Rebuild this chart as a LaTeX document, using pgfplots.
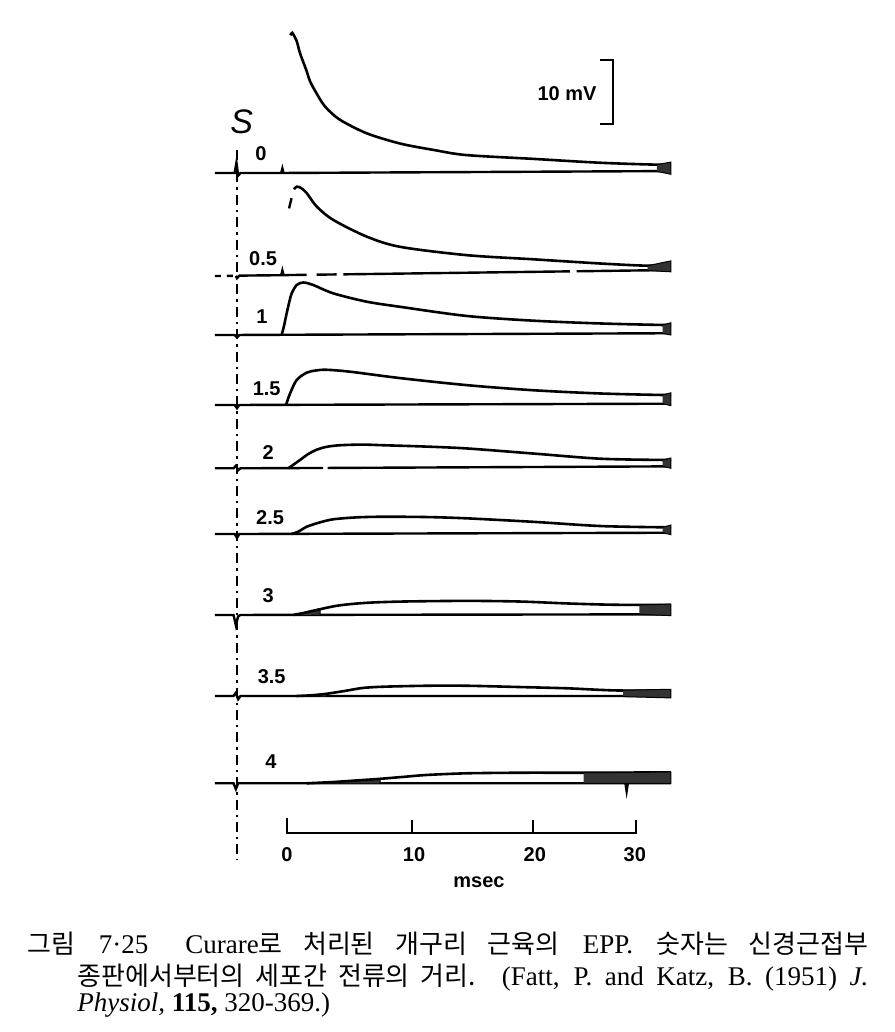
\documentclass[border=0pt]{standalone}
\usepackage{pgfplots}
\pgfplotsset{compat=1.18}
\usepackage{fontspec}
\setmainfont{Liberation Serif}
\newfontfamily\kr{Noto Sans CJK KR}
\newfontfamily\lab{Liberation Sans}

% x: msec (0 at the start of the scale bar), y: mV, each sweep lifted by its baseline
\pgfplotsset{
  trace/.style={black, line width=1.3pt, smooth, tension=0.5, no marks},
  base/.style={black, line width=1.2pt, no marks},
  blob/.style={fill=black!80, draw=black, line width=0.5pt, no marks},
}
\tikzset{lbl/.style={font=\lab\bfseries\fontsize{10}{12}\selectfont, inner sep=0pt}}

\begin{document}
\begin{tikzpicture}
\begin{axis}[
  scale only axis,
  width=447pt, height=516pt,
  xmin=-24.68, xmax=52.19,
  ymin=0, ymax=161.25,
  hide axis, clip=false,
]
\path (rel axis cs:0,0) rectangle (rel axis cs:1,1);

% stimulus line
\addplot[black, line width=1pt, dash pattern=on 5pt off 2.5pt on 1.2pt off 2.5pt] coordinates {(-4.3,137.8) (-4.3,26.9)};

% ---- 0
\addplot[base] table[row sep=\\, y expr=\thisrow{v}+134.22] {t v\\
-6.2 0\\ -4.5 0\\ -4.35 1.6\\ -4.2 -0.4\\ -4.0 0\\ -0.5 0\\ -0.4 0.7\\ -0.3 0\\ 33 0.3\\};
\addplot[trace] table[row sep=\\, y expr=\thisrow{v}+134.22] {t v\\
0.3 21.5\\ 0.45 21.9\\ 0.83 20.6\\ 1.12 18.7\\ 1.69 15.9\\ 1.98 14.3\\ 2.55 12.4\\ 2.84 11.5\\
3.41 10.1\\ 4.56 8.3\\ 6.85 6.2\\ 9.72 4.6\\ 12.6 3.6\\ 15.4 2.8\\ 21.2 2.2\\ 26.9 1.6\\ 31.8 1.3\\ 33 1.4\\};
\addplot[blob] table[row sep=\\, y expr=\thisrow{v}+134.22] {t v\\
31.8 1.3\\ 33 1.7\\ 33 -0.2\\ 31.8 0.25\\};

% ---- 0.5
\addplot[base, dashed] table[row sep=\\, y expr=\thisrow{v}+118.28] {t v\\ -6.2 -0.16\\ -4.4 -0.12\\};
\addplot[base] table[row sep=\\, y expr=\thisrow{v}+118.28] {t v\\
-4.4 -0.12\\ -4.3 -0.5\\ -4.1 -0.1\\ -0.5 -0.03\\ -0.4 0.7\\ -0.3 -0.02\\ 1.69 0.03\\};
\addplot[base] table[row sep=\\, y expr=\thisrow{v}+118.28] {t v\\ 2.55 0.05\\ 4.27 0.09\\};
\addplot[base] table[row sep=\\, y expr=\thisrow{v}+118.28] {t v\\ 4.84 0.1\\ 24.33 0.57\\};
\addplot[base] table[row sep=\\, y expr=\thisrow{v}+118.28] {t v\\ 24.9 0.58\\ 33 0.78\\};
\addplot[base] table[row sep=\\, y expr=\thisrow{v}+118.28] {t v\\ 0.17 10.4\\ 0.39 12.0\\};
\addplot[trace] table[row sep=\\, y expr=\thisrow{v}+118.28] {t v\\
0.6 13.4\\ 0.83 13.8\\ 1.2 13.6\\ 1.69 12.8\\ 2.55 10.7\\ 3.98 8.6\\ 6.85 6.0\\ 9.72 4.4\\
15.45 3.1\\ 21.2 2.45\\ 26.9 1.8\\ 31.0 1.45\\ 33 1.6\\};
\addplot[blob] table[row sep=\\, y expr=\thisrow{v}+118.28] {t v\\
31.0 1.45\\ 33 2.2\\ 33 0.5\\ 31.0 0.7\\};

% ---- 1
\addplot[base] table[row sep=\\, y expr=\thisrow{v}+108.91] {t v\\
-6.2 0\\ -4.5 0\\ -4.3 -0.4\\ -4.1 0\\ 33 0.27\\};
\addplot[trace] table[row sep=\\, y expr=\thisrow{v}+108.91] {t v\\
-0.46 0\\ -0.25 1.5\\ -0.03 3.4\\ 0.2 5.2\\ 0.40 6.5\\ 0.83 7.8\\ 1.40 8.2\\ 2.26 7.8\\ 3.98 6.5\\
6.85 5.2\\ 9.72 4.4\\ 15.45 2.97\\ 21.2 2.23\\ 26.9 1.8\\ 32.3 1.56\\ 33 1.6\\};
\addplot[blob] table[row sep=\\, y expr=\thisrow{v}+108.91] {t v\\
32.3 1.55\\ 33 1.9\\ 33 0.0\\ 32.3 0.25\\};

% ---- 1.5
\addplot[base] table[row sep=\\, y expr=\thisrow{v}+97.97] {t v\\
-6.2 0\\ -4.5 0\\ -4.3 -0.5\\ -4.1 0\\ 33 0.2\\};
\addplot[trace] table[row sep=\\, y expr=\thisrow{v}+97.97] {t v\\
-0.09 0\\ 0.26 1.8\\ 0.83 3.9\\ 1.69 5.05\\ 2.5 5.4\\ 3.41 5.5\\ 5.42 5.2\\ 9.72 4.2\\
15.45 3.1\\ 21.2 2.3\\ 26.9 1.8\\ 32.3 1.56\\ 33 1.6\\};
\addplot[blob] table[row sep=\\, y expr=\thisrow{v}+97.97] {t v\\
32.3 1.55\\ 33 1.9\\ 33 -0.1\\ 32.3 0.2\\};

% ---- 2
\addplot[base] table[row sep=\\, y expr=\thisrow{v}+88.08] {t v\\
-6.2 0\\ -4.6 0\\ -4.4 0.4\\ -4.2 -0.3\\ -4.0 0\\ 3.1 0.05\\};
\addplot[base] table[row sep=\\, y expr=\thisrow{v}+88.08] {t v\\ 3.5 0.05\\ 33 0.3\\};
\addplot[trace] table[row sep=\\, y expr=\thisrow{v}+88.08] {t v\\
0.11 0\\ 0.5 0.5\\ 1.12 1.3\\ 1.8 2.2\\ 2.55 2.9\\ 3.4 3.35\\ 4.56 3.6\\ 6.5 3.7\\ 8.28 3.6\\
11.8 3.4\\ 15.45 3.1\\ 21.2 2.3\\ 26.9 1.5\\ 32.3 1.3\\ 33 1.35\\};
\addplot[blob] table[row sep=\\, y expr=\thisrow{v}+88.08] {t v\\
32.3 1.3\\ 33 1.6\\ 33 0.0\\ 32.3 0.3\\};

% ---- 2.5
\addplot[base] table[row sep=\\, y expr=\thisrow{v}+77.81] {t v\\
-6.2 0\\ -4.5 0\\ -4.3 -0.6\\ -4.1 0\\ 33 0.2\\};
\addplot[trace] table[row sep=\\, y expr=\thisrow{v}+77.81] {t v\\
0.40 0\\ 1.0 0.4\\ 1.69 1.14\\ 2.8 1.8\\ 3.98 2.3\\ 6 2.6\\ 8.28 2.7\\ 12 2.65\\
15.45 2.45\\ 21.2 1.9\\ 26.9 1.25\\ 32.3 1.05\\ 33 1.1\\};
\addplot[blob] table[row sep=\\, y expr=\thisrow{v}+77.81] {t v\\
32.3 1.05\\ 33 1.4\\ 33 -0.1\\ 32.3 0.2\\};

% ---- 3
\addplot[base] table[row sep=\\, y expr=\thisrow{v}+65.16] {t v\\
-6.2 0\\ -4.6 0\\ -4.4 -1.6\\ -4.2 -0.2\\ -4.0 0\\ 33 0.1\\};
\addplot[blob] table[row sep=\\, y expr=\thisrow{v}+65.16] {t v\\
0.54 0\\ 1.5 0.35\\ 2.84 0.9\\ 2.84 0.05\\};
\addplot[trace] table[row sep=\\, y expr=\thisrow{v}+65.16] {t v\\
0.54 0\\ 1.5 0.35\\ 2.84 0.9\\ 4.5 1.5\\ 6.85 1.9\\ 10 2.1\\ 15.45 2.2\\ 20 2.1\\
24.1 1.8\\ 28 1.6\\ 33 1.56\\};
\addplot[blob] table[row sep=\\, y expr=\thisrow{v}+65.16] {t v\\
30.3 1.55\\ 33 1.7\\ 33 -0.1\\ 30.3 0.1\\};

% ---- 3.5
\addplot[base] table[row sep=\\, y expr=\thisrow{v}+52.5] {t v\\
-6.2 0\\ -4.6 0\\ -4.4 0.5\\ -4.2 -0.5\\ -4.0 0\\ 33 0\\};
\addplot[blob] table[row sep=\\, y expr=\thisrow{v}+52.5] {t v\\
0.83 0\\ 2 0.1\\ 3.41 0.35\\ 3.41 -0.05\\};
\addplot[trace] table[row sep=\\, y expr=\thisrow{v}+52.5] {t v\\
0.83 0\\ 2 0.1\\ 3.41 0.35\\ 5 0.8\\ 6.5 1.25\\ 8.28 1.45\\ 12 1.6\\ 15.45 1.6\\ 20 1.4\\
24.1 1.2\\ 27 0.95\\ 28.9 0.85\\ 33 0.85\\};
\addplot[blob] table[row sep=\\, y expr=\thisrow{v}+52.5] {t v\\
28.9 0.9\\ 33 1.05\\ 33 -0.3\\ 28.9 -0.1\\};

% ---- 4
\addplot[base] table[row sep=\\, y expr=\thisrow{v}+38.86] {t v\\
-6.2 0\\ -4.6 0\\ -4.4 -0.9\\ -4.2 0\\ 29.1 0\\ 29.2 -1.2\\ 29.3 0\\ 33 0\\};
\addplot[blob] table[row sep=\\, y expr=\thisrow{v}+38.86] {t v\\
1.69 0\\ 4 0.2\\ 6 0.45\\ 8.0 0.7\\ 8.0 0\\};
\addplot[trace] table[row sep=\\, y expr=\thisrow{v}+38.86] {t v\\
1.69 0\\ 4 0.2\\ 6 0.45\\ 8.0 0.7\\ 10 1.0\\ 12 1.3\\ 15.45 1.56\\ 20 1.65\\ 24.1 1.65\\
25.5 1.65\\ 33 1.7\\};
\addplot[blob] table[row sep=\\, y expr=\thisrow{v}+38.86] {t v\\
25.5 1.65\\ 33 1.75\\ 33 0\\ 25.5 0\\};

% 10 mV bracket
\addplot[base] coordinates {(26.91,151.875) (28.03,151.875) (28.03,141.875) (26.91,141.875)};

% time scale bar
\addplot[base] coordinates {(0,33.4) (0,31.09) (30,31.09) (30,33.1)};
\addplot[base] coordinates {(10.75,31.09) (10.75,33.1)};
\addplot[base] coordinates {(21.15,31.09) (21.15,33.1)};

% labels
\node[lbl] at (axis cs:24.08,146.6) {10 mV};
\node[inner sep=0pt, font=\lab\itshape\fontsize{17}{18}\selectfont] at (axis cs:-3.9,142.2) {S};
\node[lbl] at (axis cs:-2.24,137.2) {0};
\node[lbl] at (axis cs:-2.06,120.9) {0.5};
\node[lbl] at (axis cs:-2.15,111.7) {1};
\node[lbl] at (axis cs:-1.75,100.5) {1.5};
\node[lbl] at (axis cs:-1.63,90.5) {2};
\node[lbl] at (axis cs:-1.46,80.4) {2.5};
\node[lbl] at (axis cs:-1.63,68.2) {3};
\node[lbl] at (axis cs:-1.32,55.5) {3.5};
\node[lbl] at (axis cs:-1.38,42.2) {4};
\node[lbl] at (axis cs:0,27.66) {0};
\node[lbl] at (axis cs:10.92,27.66) {10};
\node[lbl] at (axis cs:21.3,27.66) {20};
\node[lbl] at (axis cs:29.9,27.66) {30};
\node[lbl] at (axis cs:16.5,23.4) {msec};

% caption
\node[anchor=base west, inner sep=0pt, font=\fontsize{13.5}{15}\selectfont] at (axis cs:-22.36,12.34)
  {\makebox[420.5pt][s]{{\kr\fontsize{13}{15}\selectfont 그림} 7·25\hspace{0.5em} Curare{\kr\fontsize{13}{15}\selectfont 로 처리된 개구리 근육의} EPP. {\kr\fontsize{13}{15}\selectfont 숫자는 신경근접부}}};
\node[anchor=base west, inner sep=0pt, font=\fontsize{13.5}{15}\selectfont] at (axis cs:-18.06,7.34)
  {\makebox[395.5pt][s]{{\kr\fontsize{13}{15}\selectfont 종판에서부터의 세포간 전류의 거리.} (Fatt, P. and Katz, B. (1951) \textit{J.}}};
\node[anchor=base west, inner sep=0pt, font=\fontsize{13.5}{15}\selectfont] at (axis cs:-18.06,3.125)
  {\textit{Physiol,} \textbf{115,} 320-369.)};
\end{axis}
\end{tikzpicture}
\end{document}
